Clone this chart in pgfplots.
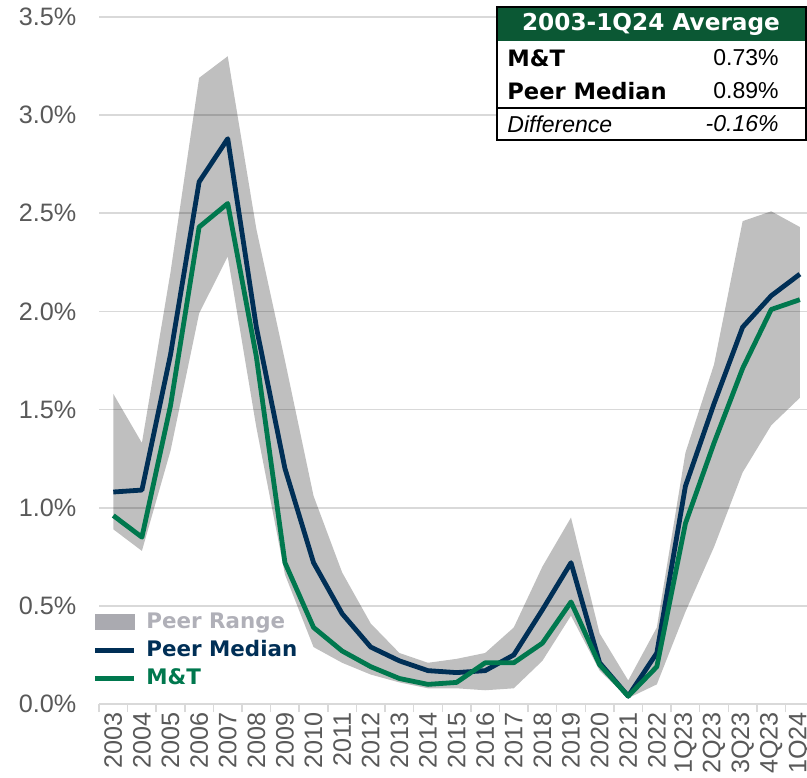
\documentclass[border=0pt]{standalone}
\usepackage{pgfplots}
\pgfplotsset{compat=1.18}
\usepackage{pgfplotstable}
\usepgfplotslibrary{fillbetween}
\usepackage{fontspec}
\setmainfont{Liberation Sans}
\newfontfamily\dejavu{DejaVu Sans}

\definecolor{navy}{HTML}{002F56}
\definecolor{mtgreen}{HTML}{00784E}
\definecolor{hdrgreen}{HTML}{0B5834}
\definecolor{legendgray}{HTML}{AAAAB0}
\definecolor{legendtext}{HTML}{B0B0B8}
\definecolor{gridgray}{HTML}{D9D9D9}
\definecolor{ticktext}{HTML}{595959}

% x = category index, up/lo = peer range, med = peer median, mt = M&T
\pgfplotstableread{
x  up   lo   med  mt
0  1.58 0.89 1.08 0.96
1  1.33 0.78 1.09 0.85
2  2.20 1.29 1.78 1.52
3  3.19 1.99 2.66 2.43
4  3.30 2.28 2.88 2.55
5  2.42 1.41 1.92 1.77
6  1.75 0.66 1.20 0.72
7  1.06 0.29 0.72 0.39
8  0.67 0.21 0.46 0.27
9  0.41 0.15 0.29 0.19
10 0.26 0.11 0.22 0.13
11 0.21 0.08 0.17 0.10
12 0.23 0.08 0.16 0.11
13 0.26 0.07 0.17 0.21
14 0.39 0.08 0.25 0.21
15 0.70 0.22 0.48 0.31
16 0.95 0.45 0.72 0.52
17 0.36 0.17 0.21 0.20
18 0.12 0.03 0.04 0.04
19 0.39 0.10 0.26 0.19
20 1.28 0.47 1.11 0.92
21 1.73 0.80 1.53 1.33
22 2.46 1.18 1.92 1.71
23 2.51 1.42 2.08 2.01
24 2.43 1.56 2.19 2.06
}\datatable

\begin{document}
\begin{tikzpicture}
\begin{axis}[
    width=354pt, height=343.5pt,
    scale only axis,
    xmin=-0.5, xmax=24.25,
    ymin=0, ymax=3.5,
    xtick={0,...,24},
    xticklabels={2003,2004,2005,2006,2007,2008,2009,2010,2011,2012,2013,2014,
        2015,2016,2017,2018,2019,2020,2021,2022,1Q23,2Q23,3Q23,4Q23,1Q24},
    minor xtick={-0.5,0.5,...,24.5},
    ytick={0,0.5,...,3.5},
    yticklabels={0.0\%,0.5\%,1.0\%,1.5\%,2.0\%,2.5\%,3.0\%,3.5\%},
    major tick length=0pt,
    minor tick length=4pt,
    tick align=outside,
    minor x tick style={draw=gridgray, line width=0.75pt},
    ymajorgrids=true,
    grid style={draw=gridgray, line width=0.9pt},
    axis x line*=bottom,
    axis y line*=left,
    x axis line style={draw=gridgray, line width=0.9pt},
    y axis line style={draw=none},
    tick label style={font=\fontsize{12.6}{13}\selectfont, text=ticktext},
    /pgf/number format/assume math mode=true,
    xticklabel style={rotate=90, anchor=east, yshift=0pt, xshift=-0.5pt},
    yticklabel style={xshift=-7.8pt},
    legend style={
        at={(rel axis cs:-0.018,0.14)}, anchor=north west,
        draw=none, fill=none,
        font=\dejavu\bfseries\fontsize{10.7}{12}\selectfont,
        nodes={inner sep=0pt, text height=8pt, text depth=2pt},
        row sep=4pt,
        /tikz/every odd column/.append style={column sep=5pt},
    },
    legend cell align=left,
]
\addplot[draw=none, name path=up, forget plot] table[x=x, y=up] {\datatable};
\addplot[draw=none, name path=lo, forget plot] table[x=x, y=lo] {\datatable};
\addplot[fill=black, fill opacity=0.25, draw=none, forget plot] fill between[of=up and lo];

\addplot[navy, line width=2.4pt, line join=round, forget plot] table[x=x, y=med] {\datatable};
\addplot[mtgreen, line width=2.4pt, line join=round, forget plot] table[x=x, y=mt] {\datatable};

\addlegendimage{legend image code/.code={\fill[legendgray] (0pt,-3.75pt) rectangle (19.5pt,3.75pt);}}
\addlegendentry{\textcolor{legendtext}{Peer Range}}
\addlegendimage{legend image code/.code={\draw[navy, line width=2.4pt] (0pt,0pt) -- (19.5pt,0pt);}}
\addlegendentry{\textcolor{navy}{Peer Median}}
\addlegendimage{legend image code/.code={\draw[mtgreen, line width=2.4pt] (0pt,0pt) -- (19.5pt,0pt);}}
\addlegendentry{\textcolor{mtgreen}{M\&T}}
\end{axis}

% summary table, top right
\fill[white] (199pt,282pt) rectangle (353.5pt,348.5pt);
\fill[hdrgreen] (199pt,331.5pt) rectangle (353.5pt,348.5pt);
\draw[black, line width=0.6pt] (199pt,282pt) rectangle (353.5pt,348.5pt);
\draw[black, line width=0.6pt] (199pt,298pt) -- (353.5pt,298pt);
\node[white, inner sep=0pt] at (276pt,340pt)
    {\dejavu\bfseries\fontsize{11.6}{12}\selectfont 2003-1Q24 Average};
\node[anchor=west, inner sep=0pt] at (204pt,323pt)
    {\dejavu\bfseries\fontsize{11.3}{12}\selectfont M\&T};
\node[anchor=east, inner sep=0pt] at (340pt,323pt)
    {\fontsize{11.5}{12}\selectfont 0.73\%};
\node[anchor=west, inner sep=0pt] at (204pt,306.5pt)
    {\dejavu\bfseries\fontsize{11.3}{12}\selectfont Peer Median};
\node[anchor=east, inner sep=0pt] at (340pt,306.5pt)
    {\fontsize{11.5}{12}\selectfont 0.89\%};
\node[anchor=west, inner sep=0pt] at (204pt,290pt)
    {\itshape\fontsize{11.5}{12}\selectfont Difference};
\node[anchor=east, inner sep=0pt] at (340pt,290pt)
    {\itshape\fontsize{11.5}{12}\selectfont -0.16\%};

\pgfresetboundingbox
\path (-49.5pt,-36.5pt) rectangle (354pt,352pt);
\end{tikzpicture}
\end{document}
